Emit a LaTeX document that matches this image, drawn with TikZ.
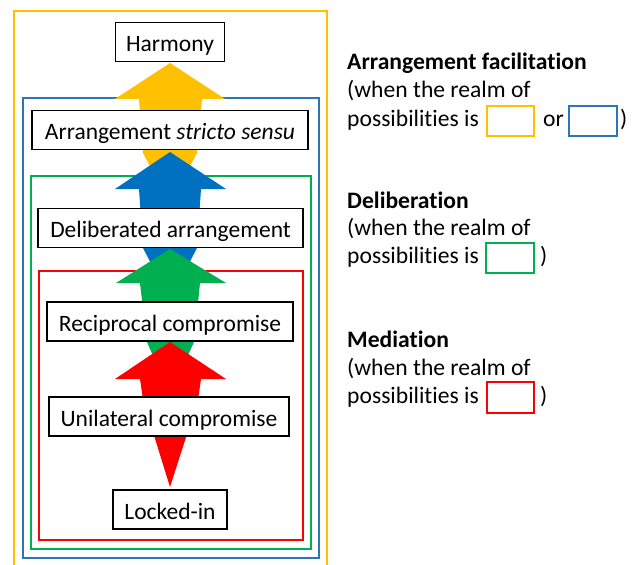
\documentclass[tikz,border=0pt]{standalone}
\usepackage{fontspec}
\setmainfont[Ligatures=NoCommon]{Carlito}
\definecolor{cyel}{HTML}{FFC000}
\definecolor{cblue}{HTML}{2E75B6}
\definecolor{cblueA}{HTML}{0070C0}
\definecolor{cgreen}{HTML}{00B050}
\definecolor{cred}{HTML}{FF0000}
\tikzset{
  stagebox/.style={draw=black, line width=1.4pt, fill=white, inner sep=0pt,
    minimum height=39pt, text height=20pt, text depth=1pt,
    font=\fontsize{23.5}{28}\selectfont},
  frame/.style={line width=2pt},
  legtext/.style={anchor=base west, inner sep=0pt, font=\fontsize{23.6}{28}\selectfont},
  legbold/.style={legtext, font=\fontsize{23.6}{28}\selectfont\bfseries},
  legbox/.style={line width=2pt}
}
\begin{document}
\begin{tikzpicture}[x=1pt,y=-1pt]
\useasboundingbox (0,0) rectangle (636,564);
\clip (0,0) rectangle (636,564);
% frames
\draw[frame, cyel] (14,11) rectangle (327,575);
\draw[frame, cblue] (23,98) rectangle (319,558);
\draw[frame, cgreen] (31,176) rectangle (311,549);
\draw[frame, cred] (39,271) rectangle (303,540);
% arrows
\fill[cyel] (170,63) -- (225,99) -- (202,99) -- (197,153) -- (170,205) -- (143,153) -- (139,99) -- (115,99) -- cycle;
\fill[cblueA] (170,152) -- (226,189) -- (201,189) -- (197,248) -- (170,300) -- (143,248) -- (139,189) -- (115,189) -- cycle;
\fill[cgreen] (170,249) -- (226,283) -- (200,283) -- (194,342) -- (170,395) -- (147,342) -- (140,283) -- (116,283) -- cycle;
\fill[cred] (170,342) -- (226,379) -- (201,379) -- (198,400) -- (170,487) -- (143,400) -- (140,379) -- (115,379) -- cycle;
% stage boxes
\node[stagebox, minimum width=109pt] (harmony) at (170,42) {Harmony};
\node[stagebox, minimum width=276pt] (stricto) at (170,130) {Arrangement \textit{stricto sensu}};
\node[stagebox, minimum width=265pt] (delib) at (170.5,228) {Deliberated arrangement};
\node[stagebox, minimum width=246pt] (recip) at (170,321.5) {Reciprocal compromise};
\node[stagebox, minimum width=240pt] (unilat) at (169,416.5) {Unilateral compromise};
\node[stagebox, minimum width=114pt] (locked) at (170,509.5) {Locked-in};
% legend
\node[legbold] (l1a) at (347,70) {Arrangement facilitation};
\node[legtext] (l1b) at (347,98) {(when the realm of};
\node[legtext] (l1c) at (347,127) {possibilities is};
\draw[legbox, cyel] (487,106) rectangle (534,136);
\node[legtext] (l1or) at (543,127) {or};
\draw[legbox, cblue] (569,106) rectangle (617,136);
\node[legtext] (l1p) at (620,127) {)};
\node[legbold] (l2a) at (347,208) {Deliberation};
\node[legtext] (l2b) at (347,235) {(when the realm of};
\node[legtext] (l2c) at (347,263) {possibilities is};
\draw[legbox, cgreen] (486,243) rectangle (534,273);
\node[legtext] (l2p) at (540,263) {)};
\node[legbold] (l3a) at (347,347) {Mediation};
\node[legtext] (l3b) at (347,375) {(when the realm of};
\node[legtext] (l3c) at (347,403) {possibilities is};
\draw[legbox, cred] (487,382) rectangle (534,413);
\node[legtext] (l3p) at (540,403) {)};
\end{tikzpicture}
\end{document}
